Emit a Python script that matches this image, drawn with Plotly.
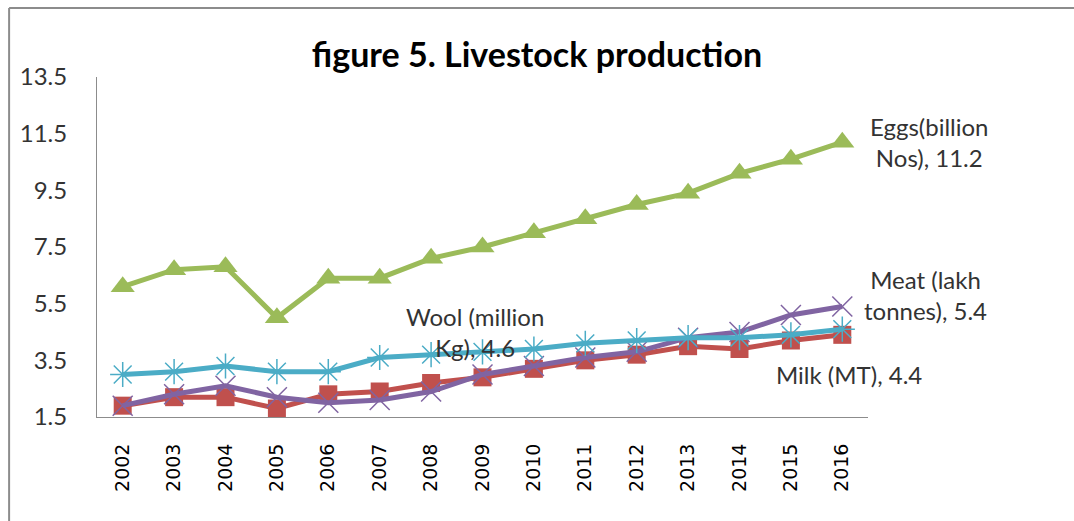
import plotly.graph_objects as go

years = [str(y) for y in range(2002, 2017)]
milk = [1.9, 2.2, 2.2, 1.8, 2.3, 2.4, 2.7, 2.9, 3.2, 3.5, 3.7, 4.0, 3.9, 4.2, 4.4]
eggs = [6.1, 6.7, 6.8, 5.0, 6.4, 6.4, 7.1, 7.5, 8.0, 8.5, 9.0, 9.4, 10.1, 10.6, 11.2]
meat = [1.9, 2.3, 2.6, 2.2, 2.0, 2.1, 2.4, 3.0, 3.3, 3.6, 3.8, 4.3, 4.5, 5.1, 5.4]
wool = [3.0, 3.1, 3.3, 3.1, 3.1, 3.6, 3.7, 3.8, 3.9, 4.1, 4.2, 4.3, 4.3, 4.4, 4.6]
ytick_vals = [1.5, 3.5, 5.5, 7.5, 9.5, 11.5, 13.5]

fig = go.Figure()
fig.add_trace(go.Scatter(x=years, y=milk, mode="lines+markers", name="Milk (MT)",
                         line=dict(color="#C0504D", width=5),
                         marker=dict(symbol="square", size=18, color="#C0504D")))
fig.add_trace(go.Scatter(x=years, y=meat, mode="lines+markers", name="Meat (lakh tonnes)",
                         line=dict(color="#8064A2", width=5),
                         marker=dict(symbol="x-thin-open", size=20,
                                     line=dict(color="#A896C8", width=1.5))))
fig.add_trace(go.Scatter(x=years, y=eggs, mode="lines+markers", name="Eggs(billion Nos)",
                         line=dict(color="#9BBB59", width=5),
                         marker=dict(symbol="triangle-up", size=21, color="#9BBB59")))
fig.add_trace(go.Scatter(x=years, y=wool, mode="lines+markers", name="Wool (million Kg)",
                         line=dict(color="#4BACC6", width=5),
                         marker=dict(symbol="asterisk-open", size=21,
                                     line=dict(color="#7FC6DA", width=1.5))))

last = len(years) - 1
afont = dict(family="Lato", size=24, color="#333333")
fig.add_annotation(x=last, y=eggs[-1], xref="x", text="Eggs(billion<br>Nos), 11.2",
                   showarrow=False, xshift=87, yshift=0, font=afont)
fig.add_annotation(x=last, y=meat[-1], xref="x", text="Meat (lakh<br>tonnes), 5.4",
                   showarrow=False, xshift=83, yshift=12, font=afont)
fig.add_annotation(x=last, y=milk[-1], xref="x", text="Milk (MT), 4.4",
                   showarrow=False, xshift=7, yshift=-40, font=afont)
fig.add_annotation(x=6.85, y=4.5, xref="x", text="Wool (million<br>Kg), 4.6",
                   showarrow=False, font=afont)

# outer chart frame
fig.add_shape(type="line", xref="paper", yref="paper", x0=-0.114, x1=-0.114,
              y0=-0.5, y1=1.203, line=dict(color="#8C8C8C", width=2))
fig.add_shape(type="line", xref="paper", yref="paper", x0=-0.114, x1=1.5,
              y0=1.203, y1=1.203, line=dict(color="#8C8C8C", width=2))

fig.update_layout(
    width=1074, height=521,
    margin=dict(l=97, r=206, t=77, b=104),
    paper_bgcolor="white", plot_bgcolor="white",
    showlegend=False,
    title=dict(text="<b>figure 5. Livestock production</b>", x=0.5, xref="container",
               y=1 - 55 / 521, yref="container", yanchor="middle",
               font=dict(family="Lato", size=34, color="#000000")),
    xaxis=dict(type="category", range=[-0.5, 14.5], showgrid=False,
               showline=True, linecolor="#8C8C8C", linewidth=1,
               tickangle=-90, ticks="", ticklabelstandoff=18,
               tickfont=dict(family="DejaVu Sans", size=19, color="#000000")),
    yaxis=dict(range=[1.5, 13.5], tickvals=ytick_vals,
               ticktext=[str(v) for v in ytick_vals], showgrid=False,
               showline=True, linecolor="#8C8C8C", linewidth=1, zeroline=False,
               ticks="", ticklabelstandoff=24,
               tickfont=dict(family="Lato", size=24, color="#333333")),
)

fig.write_html("out.html")
